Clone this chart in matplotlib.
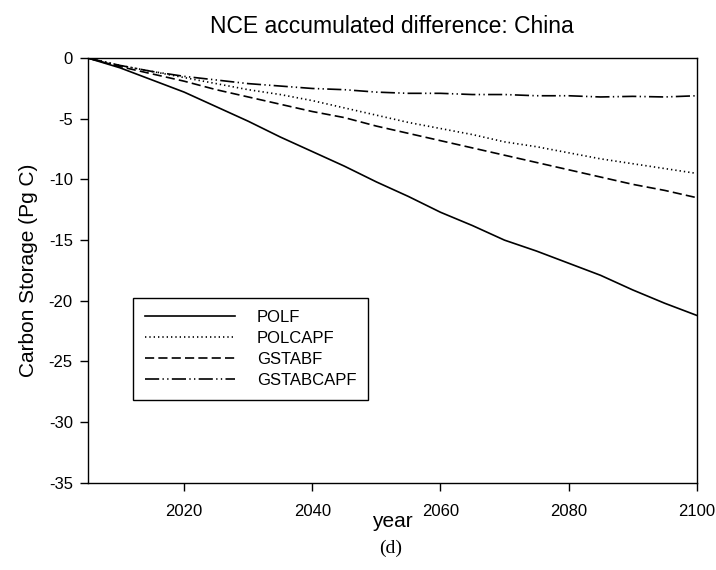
import matplotlib
matplotlib.use('Agg')
import matplotlib.pyplot as plt
import numpy as np

plt.rcParams['font.family'] = ['Liberation Sans', 'DejaVu Sans']
plt.rcParams['axes.unicode_minus'] = False

years = [2005, 2010, 2015, 2020, 2025, 2030, 2035, 2040, 2045, 2050,
         2055, 2060, 2065, 2070, 2075, 2080, 2085, 2090, 2095, 2100]

polf = [0, -0.8, -1.8, -2.8, -4.0, -5.2, -6.5, -7.7, -8.9, -10.2,
        -11.4, -12.7, -13.8, -15.0, -15.9, -16.9, -17.9, -19.1, -20.2, -21.2]
polcapf = [0, -0.6, -1.1, -1.6, -2.1, -2.6, -3.0, -3.5, -4.1, -4.7,
           -5.3, -5.8, -6.3, -6.9, -7.3, -7.8, -8.3, -8.7, -9.1, -9.5]
gstabf = [0, -0.7, -1.3, -1.9, -2.6, -3.2, -3.8, -4.4, -4.9, -5.6,
          -6.2, -6.8, -7.4, -8.0, -8.6, -9.2, -9.8, -10.4, -10.9, -11.5]
gstabcapf = [0, -0.6, -1.1, -1.5, -1.8, -2.1, -2.3, -2.5, -2.6, -2.8,
             -2.9, -2.9, -3.0, -3.0, -3.1, -3.1, -3.2, -3.15, -3.2, -3.1]

x_ticks = [2020, 2040, 2060, 2080, 2100]
y_ticks = [0, -5, -10, -15, -20, -25, -30, -35]

fig = plt.figure(figsize=(7.16, 5.70), dpi=100)
ax = fig.add_axes([0.123, 0.153, 0.850, 0.745])

lw = 1.2
ax.plot(years, polf, color='black', lw=lw, ls='-', label='POLF')
ax.plot(years, polcapf, color='black', lw=lw, ls=(0, (0.8, 1.8)), label='POLCAPF')
ax.plot(years, gstabf, color='black', lw=lw, ls=(0, (5.5, 2.5)), label='GSTABF')
ax.plot(years, gstabcapf, color='black', lw=lw,
        ls=(0, (8.5, 2, 0.8, 2, 0.8, 2)), label='GSTABCAPF')

ax.set_xlim(2005, 2100)
ax.set_ylim(-35, 0)
ax.set_xticks(x_ticks)
ax.set_yticks(y_ticks)
ax.tick_params(direction='out', length=6, width=1, labelsize=12)
ax.tick_params(axis='x', pad=9)
ax.tick_params(axis='y', pad=5)
for s in ax.spines.values():
    s.set_linewidth(1.0)

ax.set_title('NCE accumulated difference: China', fontsize=16.5, pad=18)
ax.set_xlabel('year', fontsize=15)
ax.xaxis.set_label_coords(0.5, -0.068)
ax.set_ylabel('Carbon Storage (Pg C)', fontsize=15, labelpad=8)

leg = ax.legend(loc='upper left', bbox_to_anchor=(0.0739, 0.435),
                borderaxespad=0, fontsize=12, handlelength=5.4,
                handletextpad=1.3, fancybox=False, edgecolor='black',
                framealpha=1, labelspacing=0.36, borderpad=0.72)
leg.get_frame().set_linewidth(1.0)

fig.text(0.545, 0.038, '(d)', fontsize=14, ha='center', va='center',
         family=['Liberation Serif', 'DejaVu Serif'])

fig.savefig('out.png', dpi=100)
